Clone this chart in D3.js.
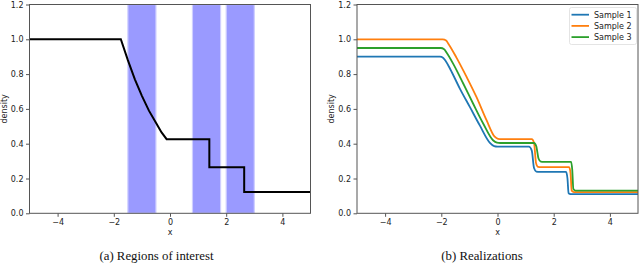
<!DOCTYPE html>
<meta charset="utf-8">
<head>
  <title>Regions of interest / Realizations</title>
</head>

<style>
body { margin: 0; background: #fff; }
text {
  font-family: "DejaVu Sans", sans-serif;
  fill: #222;
}
.caption {
  font-family: "Liberation Serif", "DejaVu Serif", serif;
  font-size: 12.8px;
  fill: #111;
}
.axis text { font-size: 8px; fill: #222; }
.axis path, .axis line { stroke: #555; }
</style>

<body>
  <svg width="640" height="263"></svg>

  <script src="https://cdnjs.cloudflare.com/ajax/libs/d3/7.8.5/d3.min.js"></script>
  <script>

// shaded regions of interest (x start, x end)
var regions = [[-1.5, -0.5], [0.8, 1.8], [2.0, 3.0]];

// reference density profile
var refX = [-5, -1.75, -1.5, -1.25, -1.0, -0.75, -0.5, -0.3, -0.12, 1.40, 1.40, 2.64, 2.64, 5];
var refY = [1.0, 1.0, 0.88, 0.77, 0.675, 0.59, 0.52, 0.465, 0.426, 0.426, 0.265, 0.265, 0.123, 0.123];

// realizations
var s1X = [-5, -2.05, -1.93, -1.85, -1.68, -1.34, -0.98, -0.63, -0.27, -0.12, 0.0, 1.12, 1.22, 1.30, 1.38, 1.5, 2.44, 2.49, 2.53, 2.6, 5];
var s1Y = [0.9, 0.9, 0.893, 0.877, 0.828, 0.717, 0.61, 0.505, 0.405, 0.386, 0.383, 0.383, 0.36, 0.26, 0.24, 0.238, 0.238, 0.2, 0.115, 0.11, 0.11];

var s2X = [-5, -1.95, -1.83, -1.75, -1.46, -1.10, -0.75, -0.39, -0.1, 0.02, 0.15, 1.22, 1.30, 1.37, 1.44, 1.55, 2.55, 2.60, 2.64, 2.72, 5];
var s2Y = [1.0, 1.0, 0.993, 0.975, 0.895, 0.784, 0.669, 0.535, 0.44, 0.428, 0.426, 0.426, 0.405, 0.29, 0.267, 0.265, 0.265, 0.23, 0.13, 0.122, 0.122];

var s3X = [-5, -2.02, -1.9, -1.82, -1.58, -1.22, -0.87, -0.51, -0.16, -0.02, 0.1, 1.30, 1.38, 1.46, 1.54, 1.65, 2.62, 2.66, 2.70, 2.78, 5];
var s3Y = [0.95, 0.95, 0.943, 0.925, 0.86, 0.746, 0.631, 0.516, 0.42, 0.406, 0.404, 0.404, 0.385, 0.315, 0.297, 0.295, 0.295, 0.25, 0.14, 0.13, 0.13];

var seriesNames = ["Sample 1", "Sample 2", "Sample 3"];
var seriesColors = ["#1f77b4", "#ff7f0e", "#2ca02c"];

var xTicks = [-4, -2, 0, 2, 4];
var yTicks = [0.0, 0.2, 0.4, 0.6, 0.8, 1.0, 1.2];

var svg = d3.select("svg");

function zip(xs, ys) {
  return xs.map(function(x, i) { return [x, ys[i]]; });
}

function panel(left, right, caption, captionX) {
  var top = 4.5, bottom = 213.3;
  var x = d3.scaleLinear().domain([-5, 5]).range([left, right]);
  var y = d3.scaleLinear().domain([0, 1.2]).range([bottom, top]);
  var g = svg.append("g");

  g.append("defs").append("clipPath").attr("id", "clip" + Math.round(left))
    .append("rect").attr("x", left).attr("y", top)
    .attr("width", right - left).attr("height", bottom - top);

  var plot = g.append("g").attr("clip-path", "url(#clip" + Math.round(left) + ")");

  g.append("g").attr("class", "axis")
    .attr("transform", "translate(0," + bottom + ")")
    .call(d3.axisBottom(x).tickValues(xTicks).tickSize(3.5).tickPadding(2.5)
      .tickFormat(function(d) { return d < 0 ? "\u2212" + Math.abs(d) : d; }))
    .call(function(a) { a.select(".domain").remove(); });

  g.append("g").attr("class", "axis")
    .attr("transform", "translate(" + left + ",0)")
    .call(d3.axisLeft(y).tickValues(yTicks).tickSize(3.5).tickPadding(2.5)
      .tickFormat(d3.format(".1f")))
    .call(function(a) { a.select(".domain").remove(); });

  g.append("rect")
    .attr("x", left).attr("y", top)
    .attr("width", right - left).attr("height", bottom - top)
    .attr("fill", "none").attr("stroke", "#555").attr("stroke-width", 1);

  g.append("text")
    .attr("x", (left + right) / 2).attr("y", 235)
    .attr("text-anchor", "middle").style("font-size", "8px")
    .text("x");

  g.append("text")
    .attr("transform", "translate(" + (left - 23) + "," + ((top + bottom) / 2) + ") rotate(-90)")
    .attr("text-anchor", "middle").style("font-size", "8px")
    .text("density");

  g.append("text").attr("class", "caption")
    .attr("x", captionX).attr("y", 260)
    .attr("text-anchor", "middle")
    .text(caption);

  return { x: x, y: y, plot: plot };
}

// (a) regions of interest
var a = panel(29.5, 310.5, "(a) Regions of interest", 156.5);

a.plot.selectAll("rect.region")
  .data(regions)
  .enter()
  .append("rect")
  .attr("class", "region")
  .attr("x", function(d) { return a.x(d[0]); })
  .attr("y", a.y(1.2))
  .attr("width", function(d) { return a.x(d[1]) - a.x(d[0]); })
  .attr("height", a.y(0) - a.y(1.2))
  .attr("fill", "#9a9aff")
  .attr("stroke", "#cfcfff")
  .attr("stroke-width", 1.2);

var lineA = d3.line()
  .x(function(d) { return a.x(d[0]); })
  .y(function(d) { return a.y(d[1]); });

a.plot.append("path")
  .datum(zip(refX, refY))
  .attr("d", lineA)
  .attr("fill", "none")
  .attr("stroke", "black")
  .attr("stroke-width", 2);

// (b) realizations
var b = panel(357, 638, "(b) Realizations", 482);

var lineB = d3.line()
  .curve(d3.curveMonotoneX)
  .x(function(d) { return b.x(d[0]); })
  .y(function(d) { return b.y(d[1]); });

var samples = [zip(s1X, s1Y), zip(s2X, s2Y), zip(s3X, s3Y)];

b.plot.selectAll("path.sample")
  .data(samples)
  .enter()
  .append("path")
  .attr("class", "sample")
  .attr("d", lineB)
  .attr("fill", "none")
  .attr("stroke", function(d, i) { return seriesColors[i]; })
  .attr("stroke-width", 1.8);

// legend
var legend = svg.append("g");
legend.append("rect")
  .attr("x", 569.5).attr("y", 7.5)
  .attr("width", 67).attr("height", 37)
  .attr("rx", 2)
  .attr("fill", "white").attr("fill-opacity", 0.8)
  .attr("stroke", "#ddd").attr("stroke-width", 0.8);

var items = legend.selectAll("g.item")
  .data(seriesNames)
  .enter()
  .append("g")
  .attr("class", "item")
  .attr("transform", function(d, i) { return "translate(0," + (14.7 + i * 11.2) + ")"; });

items.append("line")
  .attr("x1", 571.5).attr("x2", 589)
  .attr("stroke", function(d, i) { return seriesColors[i]; })
  .attr("stroke-width", 1.8);

items.append("text")
  .attr("x", 594).attr("dy", "0.35em")
  .style("font-size", "8px")
  .text(function(d) { return d; });

  </script>
</body>
</html>
